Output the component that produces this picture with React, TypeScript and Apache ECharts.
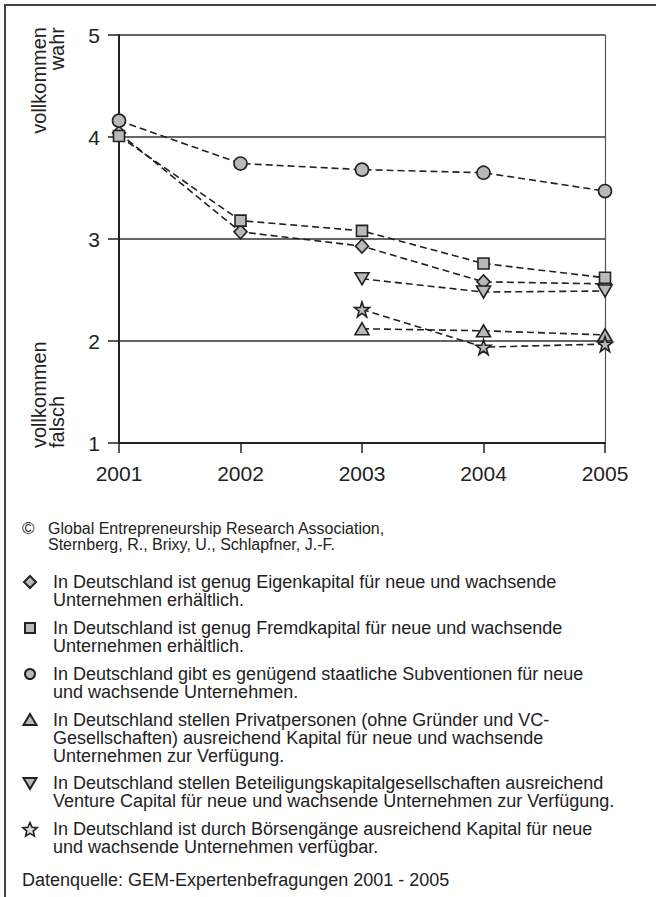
import React, { useEffect, useRef } from "react";
import * as echarts from "echarts";

const years = ["2001", "2002", "2003", "2004", "2005"];
const yTicks = [1, 2, 3, 4, 5];

const eigenkapital = [4.04, 3.07, 2.93, 2.58, 2.56];
const fremdkapital = [4.01, 3.18, 3.08, 2.76, 2.62];
const subventionen = [4.16, 3.74, 3.68, 3.65, 3.47];
const privatpersonen = [null, null, 2.12, 2.10, 2.06];
const beteiligung = [null, null, 2.61, 2.48, 2.49];
const boersen = [null, null, 2.31, 1.94, 1.97];

const legendTexts = [
  "In Deutschland ist genug Eigenkapital für neue und wachsende\nUnternehmen erhältlich.",
  "In Deutschland ist genug Fremdkapital für neue und wachsende\nUnternehmen erhältlich.",
  "In Deutschland gibt es genügend staatliche Subventionen für neue\nund wachsende Unternehmen.",
  "In Deutschland stellen Privatpersonen (ohne Gründer und VC-\nGesellschaften) ausreichend Kapital für neue und wachsende\nUnternehmen zur Verfügung.",
  "In Deutschland stellen Beteiligungskapitalgesellschaften ausreichend\nVenture Capital für neue und wachsende Unternehmen zur Verfügung.",
  "In Deutschland ist durch Börsengänge ausreichend Kapital für neue\nund wachsende Unternehmen verfügbar.",
];

const copyrightText = "Global Entrepreneurship Research Association,\nSternberg, R., Brixy, U., Schlapfner, J.-F.";
const sourceText = "Datenquelle: GEM-Expertenbefragungen 2001 - 2005";
const topLabel = "vollkommen\nwahr";
const bottomLabel = "vollkommen\nfalsch";

const STAR = "path://M50,2 L61.5,36 L97,36 L68.5,57.5 L79,92 L50,71 L21,92 L31.5,57.5 L3,36 L38.5,36 Z";
const FONT = "'Liberation Sans', Arial, Helvetica, sans-serif";
const INK = "#222";
const FILL = "#b9b9b9";

function starPoints(cx: number, cy: number, R: number, r: number) {
  const pts: number[][] = [];
  for (let i = 0; i < 10; i++) {
    const a = -Math.PI / 2 + (i * Math.PI) / 5;
    const rad = i % 2 === 0 ? R : r;
    pts.push([cx + rad * Math.cos(a), cy + rad * Math.sin(a)]);
  }
  return pts;
}

export default function App() {
  const ref = useRef<HTMLDivElement>(null);
  useEffect(() => {
    if (!ref.current) return;
    const chart = echarts.init(ref.current, null, { renderer: "svg" });

    const seriesDefs = [
      { data: eigenkapital, symbol: "diamond", size: [13, 14], rotate: 0 },
      { data: fremdkapital, symbol: "rect", size: 11, rotate: 0 },
      { data: subventionen, symbol: "circle", size: 13, rotate: 0 },
      { data: privatpersonen, symbol: "triangle", size: [14, 12], rotate: 0 },
      { data: beteiligung, symbol: "triangle", size: [14, 12], rotate: 180 },
      { data: boersen, symbol: STAR, size: 15, rotate: 0 },
    ];

    const series = seriesDefs.map((d, i) => ({
      type: "line",
      name: legendTexts[i].replace(/\n/g, " "),
      data: d.data,
      symbol: d.symbol,
      symbolSize: d.size,
      symbolRotate: d.rotate,
      showAllSymbol: true,
      connectNulls: false,
      lineStyle: { color: INK, width: 1.6, type: [7, 4] },
      itemStyle: { color: FILL, borderColor: INK, borderWidth: 1.6 },
      z: 3 + i,
    }));

    const lineH = 18;
    const firstLines = [582, 628, 674, 720, 783, 829];
    const graphics: any[] = [];
    graphics.push({
      type: "rect",
      shape: { x: 5, y: 5, width: 900, height: 1100 },
      style: { fill: "none", stroke: "#444", lineWidth: 2 },
      silent: true,
    });
    graphics.push({
      type: "text",
      x: 30,
      y: 27,
      rotation: Math.PI / 2,
      style: { text: topLabel, font: `20px ${FONT}`, fill: INK, textAlign: "right", textVerticalAlign: "top", lineHeight: 18 },
    });
    graphics.push({
      type: "text",
      x: 30,
      y: 448,
      rotation: Math.PI / 2,
      style: { text: bottomLabel, font: `20px ${FONT}`, fill: INK, textAlign: "left", textVerticalAlign: "top", lineHeight: 18 },
    });
    graphics.push({
      type: "text",
      x: 22,
      y: 528,
      style: { text: "©", font: `17px ${FONT}`, fill: INK, textAlign: "left", textVerticalAlign: "middle" },
    });
    graphics.push({
      type: "text",
      x: 48,
      y: 528 - 8,
      style: { text: copyrightText, font: `16px ${FONT}`, fill: INK, textAlign: "left", textVerticalAlign: "top", lineHeight: 16 },
    });
    legendTexts.forEach((t, i) => {
      const cy = firstLines[i];
      graphics.push({
        type: "text",
        x: 53,
        y: cy - lineH / 2,
        style: { text: t, font: `18px ${FONT}`, fill: INK, textAlign: "left", textVerticalAlign: "top", lineHeight: lineH },
      });
      const cx = 30;
      const st = { fill: FILL, stroke: INK, lineWidth: 2 };
      if (i === 0) {
        graphics.push({ type: "polygon", shape: { points: [[cx, cy - 6], [cx + 6, cy], [cx, cy + 6], [cx - 6, cy]] }, style: st });
      } else if (i === 1) {
        graphics.push({ type: "rect", shape: { x: cx - 5, y: cy - 5, width: 10, height: 10 }, style: st });
      } else if (i === 2) {
        graphics.push({ type: "circle", shape: { cx, cy, r: 5 }, style: st });
      } else if (i === 3) {
        graphics.push({ type: "polygon", shape: { points: [[cx, cy - 6], [cx + 6.5, cy + 5], [cx - 6.5, cy + 5]] }, style: st });
      } else if (i === 4) {
        graphics.push({ type: "polygon", shape: { points: [[cx - 6.5, cy - 5], [cx + 6.5, cy - 5], [cx, cy + 6]] }, style: st });
      } else {
        graphics.push({ type: "polygon", shape: { points: starPoints(cx, cy + 1, 7.5, 3.4) }, style: { fill: "#ddd", stroke: INK, lineWidth: 1.6 } });
      }
    });
    graphics.push({
      type: "text",
      x: 22,
      y: 880,
      style: { text: sourceText, font: `18px ${FONT}`, fill: INK, textAlign: "left", textVerticalAlign: "middle" },
    });

    chart.setOption({
      animation: false,
      backgroundColor: "#fff",
      textStyle: { fontFamily: FONT },
      grid: { left: 119, right: 51, top: 35, bottom: 454, containLabel: false },
      xAxis: {
        type: "category",
        data: years,
        boundaryGap: false,
        axisLine: { show: true, lineStyle: { color: INK, width: 2 } },
        axisTick: { show: true, length: 10, lineStyle: { color: INK, width: 1.5 } },
        axisLabel: { color: INK, fontSize: 21, margin: 20, fontFamily: FONT },
        splitLine: { show: false },
      },
      yAxis: [
        {
          type: "value",
          min: 1,
          max: 5,
          interval: 1,
          axisLine: { show: true, lineStyle: { color: INK, width: 2 } },
          axisTick: { show: true, length: 11, lineStyle: { color: INK, width: 1.5 } },
          axisLabel: { color: INK, fontSize: 21, margin: 19, fontFamily: FONT, formatter: (v: number) => (yTicks.includes(v) ? String(v) : "") },
          splitLine: { show: true, lineStyle: { color: "#333", width: 1.5 } },
        },
        {
          type: "value",
          position: "right",
          min: 1,
          max: 5,
          interval: 1,
          axisLine: { show: true, lineStyle: { color: "#555", width: 1.2 } },
          axisTick: { show: false },
          axisLabel: { show: false },
          splitLine: { show: false },
        },
      ],
      series,
      graphic: graphics,
    });
    return () => chart.dispose();
  }, []);
  return <div ref={ref} style={{ position: "absolute", left: 0, top: 0, width: 656, height: 897 }} />;
}
